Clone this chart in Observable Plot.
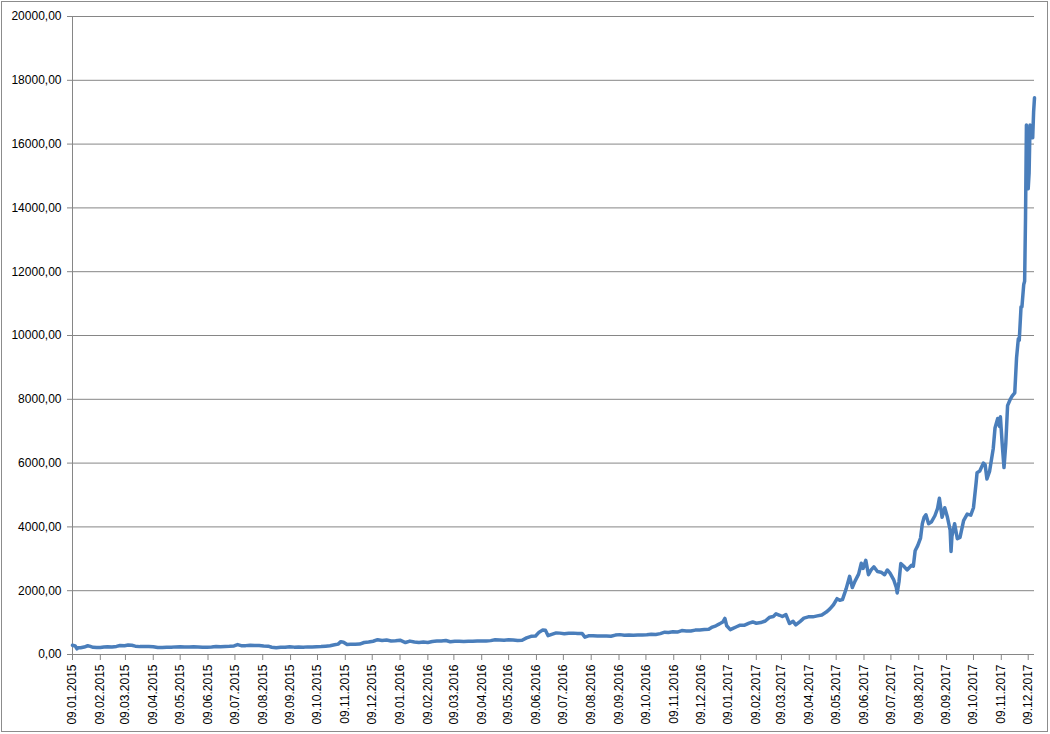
<!DOCTYPE html>
<html><head><meta charset="utf-8">
<script src="https://cdn.jsdelivr.net/npm/d3@7"></script>
<script src="https://cdn.jsdelivr.net/npm/@observablehq/plot@0.6"></script>
<style>
body{margin:0;background:#fff}
#chart{position:absolute;left:0;top:0}
#frame{position:absolute;left:1px;top:1px;width:1045px;height:729px;border:1px solid #8c8c8c;pointer-events:none}
</style>
</head><body><div id="chart"></div><div id="frame"></div>
<script>
const btc2015 = [
["2015-01-09",290],["2015-01-12",267],["2015-01-14",178],["2015-01-15",209],["2015-01-18",210],["2015-01-22",233],["2015-01-26",274],["2015-01-28",263],
["2015-02-01",226],["2015-02-05",217],["2015-02-09",220],["2015-02-13",236],["2015-02-17",243],["2015-02-22",235],["2015-02-27",254],
["2015-03-03",281],["2015-03-08",275],["2015-03-12",295],["2015-03-16",290],["2015-03-20",262],["2015-03-25",247],["2015-03-30",247],
["2015-04-04",253],["2015-04-09",243],["2015-04-14",219],["2015-04-19",223],["2015-04-24",231],["2015-04-29",225],
["2015-05-04",239],["2015-05-09",242],["2015-05-14",236],["2015-05-19",232],["2015-05-24",241],["2015-05-29",237],
["2015-06-03",226],["2015-06-08",229],["2015-06-13",233],["2015-06-18",249],["2015-06-23",244],["2015-06-28",250],
["2015-07-03",256],["2015-07-08",269],["2015-07-12",310],["2015-07-16",277],["2015-07-21",278],["2015-07-26",292],["2015-07-31",284],
["2015-08-05",281],["2015-08-10",264],["2015-08-15",261],["2015-08-19",226],["2015-08-24",210],["2015-08-29",229],
["2015-09-03",227],["2015-09-08",243],["2015-09-13",231],["2015-09-18",233],["2015-09-23",230],["2015-09-28",239],
["2015-10-03",238],["2015-10-08",243],["2015-10-13",250],["2015-10-18",262],["2015-10-23",276],["2015-10-28",304],
["2015-11-01",325],["2015-11-04",403],["2015-11-07",385],["2015-11-11",311],["2015-11-15",320],["2015-11-20",322],["2015-11-25",328],["2015-11-30",377],
["2015-12-05",389],["2015-12-10",415],["2015-12-15",464],["2015-12-20",442],["2015-12-25",455],["2015-12-30",426]
];
const btc2016 = [
["2016-01-04",433],["2016-01-09",448],["2016-01-15",375],["2016-01-20",420],["2016-01-25",392],["2016-01-30",378],
["2016-02-04",390],["2016-02-09",376],["2016-02-14",407],["2016-02-19",422],["2016-02-24",423],["2016-02-29",437],
["2016-03-05",400],["2016-03-10",415],["2016-03-15",415],["2016-03-20",410],["2016-03-25",416],["2016-03-30",413],
["2016-04-04",420],["2016-04-09",420],["2016-04-14",424],["2016-04-19",435],["2016-04-24",460],["2016-04-29",455],
["2016-05-04",446],["2016-05-09",460],["2016-05-14",455],["2016-05-19",438],["2016-05-24",445],["2016-05-29",520],
["2016-06-03",570],["2016-06-08",580],["2016-06-12",700],["2016-06-16",766],["2016-06-19",760],["2016-06-22",590],["2016-06-26",630],
["2016-07-01",676],["2016-07-05",670],["2016-07-10",650],["2016-07-15",665],["2016-07-20",670],["2016-07-25",655],["2016-07-30",655],
["2016-08-02",545],["2016-08-06",585],["2016-08-11",590],["2016-08-16",580],["2016-08-21",580],["2016-08-26",577],["2016-08-31",573],
["2016-09-05",608],["2016-09-10",623],["2016-09-15",607],["2016-09-20",610],["2016-09-25",602],["2016-09-30",609],
["2016-10-05",612],["2016-10-10",618],["2016-10-15",638],["2016-10-20",630],["2016-10-25",655],["2016-10-30",700],
["2016-11-03",690],["2016-11-08",710],["2016-11-13",702],["2016-11-18",750],["2016-11-23",740],["2016-11-28",735],
["2016-12-03",765],["2016-12-08",770],["2016-12-13",780],["2016-12-18",790],["2016-12-22",860],["2016-12-26",900],["2016-12-30",960]
];
const btc2017 = [
["2017-01-03",1030],["2017-01-05",1130],["2017-01-07",900],["2017-01-11",780],["2017-01-14",820],["2017-01-18",870],["2017-01-22",920],["2017-01-27",920],
["2017-02-01",985],["2017-02-05",1020],["2017-02-09",980],["2017-02-14",1000],["2017-02-19",1050],["2017-02-24",1170],["2017-02-28",1190],
["2017-03-03",1275],["2017-03-07",1230],["2017-03-10",1190],["2017-03-14",1250],["2017-03-18",970],["2017-03-22",1040],["2017-03-25",930],["2017-03-30",1040],
["2017-04-03",1140],["2017-04-08",1180],["2017-04-13",1180],["2017-04-18",1210],["2017-04-23",1240],["2017-04-28",1330],
["2017-05-02",1430],["2017-05-06",1560],["2017-05-10",1750],["2017-05-13",1700],["2017-05-16",1720],["2017-05-20",2050],["2017-05-24",2450],["2017-05-27",2100],["2017-05-30",2300],
["2017-06-03",2520],["2017-06-06",2860],["2017-06-08",2700],["2017-06-11",2950],["2017-06-14",2500],["2017-06-17",2650],["2017-06-20",2750],["2017-06-24",2600],["2017-06-28",2580],
["2017-07-02",2500],["2017-07-05",2650],["2017-07-08",2550],["2017-07-12",2350],["2017-07-15",2100],["2017-07-16",1930],["2017-07-18",2280],["2017-07-20",2850],["2017-07-24",2750],["2017-07-27",2650],
["2017-08-01",2800],["2017-08-03",2770],["2017-08-05",3250],["2017-08-08",3420],["2017-08-11",3650],["2017-08-13",4100],["2017-08-15",4300],["2017-08-17",4380],["2017-08-20",4100],["2017-08-23",4150],["2017-08-27",4350],["2017-08-30",4580],
["2017-09-01",4900],["2017-09-04",4300],["2017-09-07",4600],["2017-09-10",4300],["2017-09-13",3900],["2017-09-14",3230],["2017-09-15",3700],["2017-09-18",4100],["2017-09-21",3630],["2017-09-24",3670],["2017-09-28",4200],
["2017-10-02",4400],["2017-10-06",4370],["2017-10-09",4600],["2017-10-12",5400],["2017-10-13",5700],["2017-10-16",5750],["2017-10-20",6000],["2017-10-22",5950],["2017-10-24",5500],["2017-10-27",5750],["2017-10-31",6450],
["2017-11-02",7100],["2017-11-05",7400],["2017-11-07",7150],["2017-11-08",7450],["2017-11-10",6600],["2017-11-12",5860],["2017-11-14",6600],["2017-11-16",7800],["2017-11-19",8000],["2017-11-21",8100],["2017-11-24",8200],["2017-11-26",9300],["2017-11-28",9900],["2017-11-29",9850],
["2017-12-01",10900],["2017-12-02",10900],["2017-12-04",11600],["2017-12-05",11700],["2017-12-06",13700],["2017-12-07",16600],["2017-12-08",15200],["2017-12-09",14600],["2017-12-10",15100],["2017-12-11",16600],["2017-12-12",16300],["2017-12-13",16400],["2017-12-14",16200],["2017-12-15",17000],["2017-12-16",17450]
];
const yTicks = [0,2000,4000,6000,8000,10000,12000,14000,16000,18000,20000];
const xTickLabels = [
"09.01.2015","09.02.2015","09.03.2015","09.04.2015","09.05.2015","09.06.2015","09.07.2015","09.08.2015","09.09.2015","09.10.2015","09.11.2015","09.12.2015",
"09.01.2016","09.02.2016","09.03.2016","09.04.2016","09.05.2016","09.06.2016","09.07.2016","09.08.2016","09.09.2016","09.10.2016","09.11.2016","09.12.2016",
"09.01.2017","09.02.2017","09.03.2017","09.04.2017","09.05.2017","09.06.2017","09.07.2017","09.08.2017","09.09.2017","09.10.2017","09.11.2017","09.12.2017"
];

const parseIso = d3.utcParse("%Y-%m-%d");
const parseLabel = d3.utcParse("%d.%m.%Y");
const fmtLabel = d3.utcFormat("%d.%m.%Y");
const data = [...btc2015, ...btc2016, ...btc2017].map(([d, v]) => ({date: parseIso(d), price: v}));
const xDomain = d3.extent(data, d => d.date);
const xTicks = xTickLabels.map(parseLabel);
const grid = "#868686";

const plot = Plot.plot({
  width: 1050,
  height: 734,
  marginLeft: 72,
  marginRight: 16,
  marginTop: 16,
  marginBottom: 80,
  style: {fontFamily: "'Liberation Sans', Arial, sans-serif", fontSize: "12px", color: "#000", background: "#fff"},
  x: {type: "utc", domain: xDomain, label: null},
  y: {domain: [0, 20000], label: null},
  marks: [
    Plot.gridY(yTicks, {stroke: grid, strokeOpacity: 1, strokeWidth: 1}),
    Plot.ruleX([xDomain[0]], {stroke: grid, strokeWidth: 1}),
    Plot.ruleY([0], {stroke: grid, strokeWidth: 1}),
    Plot.axisY(yTicks, {tickFormat: d => d3.format(".2f")(d).replace(".", ","), tickSize: 5, tickPadding: 6, stroke: grid, fill: "#000", label: null}),
    Plot.axisX(xTicks, {tickFormat: fmtLabel, tickRotate: -90, tickSize: 6, tickPadding: 4, stroke: grid, fill: "#000", label: null}),
    Plot.line(data, {x: "date", y: "price", stroke: "#4a7ebb", strokeWidth: 3.5, strokeLinejoin: "round", strokeLinecap: "round"})
  ]
});
document.getElementById("chart").appendChild(plot);
</script>
</body></html>
